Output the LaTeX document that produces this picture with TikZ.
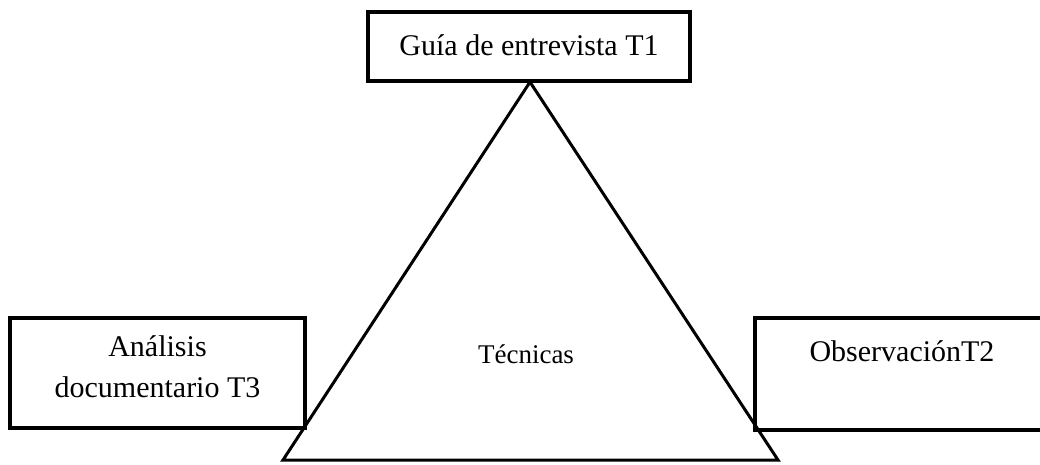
\documentclass[tikz,border=0pt]{standalone}
\usepackage{fontspec}
\setmainfont{Liberation Serif}
\begin{document}
\begin{tikzpicture}[x=1pt,y=-1pt,
  boxst/.style={draw=black,line width=4pt,fill=white,inner sep=0pt},
  txt/.style={inner sep=0pt,font=\fontsize{30}{41}\selectfont,align=center}]
\useasboundingbox (0,0) rectangle (1040,464);
\fill[white] (0,0) rectangle (1040,464);
% boxes
\node[boxst,minimum width=322pt,minimum height=69pt] (top) at (529,46.5) {};
\node[boxst,line width=3.5pt,minimum width=295pt,minimum height=110pt] (left) at (157.5,373) {};
\node[boxst,minimum width=300pt,minimum height=112pt] (right) at (905,374) {};
% triangle
\coordinate (apex) at (530,82);
\coordinate (bl) at (283,460);
\coordinate (br) at (778,460);
\draw[line width=3pt,line join=miter] (apex) -- (bl) -- (br) -- cycle;
% texts
\node[txt,anchor=base] (ttop) at (529,55) {Guía de entrevista T1};
\node[txt,anchor=base] (tleft) at (157.5,397) {Análisis\\documentario T3};
\node[txt,anchor=base] (tright) at (902,361) {ObservaciónT2};
\node[txt,anchor=base,font=\fontsize{27}{32}\selectfont] (tmid) at (526,363) {Técnicas};
\end{tikzpicture}
\end{document}
